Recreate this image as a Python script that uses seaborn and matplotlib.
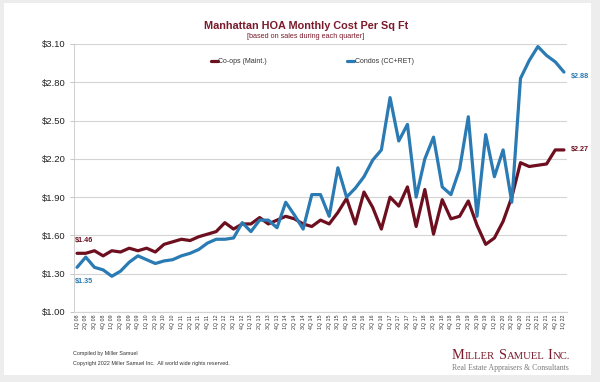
import numpy as np
import pandas as pd
import matplotlib
matplotlib.use("Agg")
import matplotlib.pyplot as plt
import seaborn as sns
from matplotlib.patches import Rectangle

quarters = [f"{q}Q {y:02d}" for y in range(8, 22) for q in range(1, 5)] + ["1Q 22"]

coops = [1.46, 1.46, 1.48, 1.44, 1.48, 1.47, 1.50, 1.48, 1.50, 1.47,
         1.53, 1.55, 1.57, 1.56, 1.59, 1.61, 1.63, 1.70, 1.65, 1.69,
         1.69, 1.74, 1.69, 1.72, 1.75, 1.73, 1.69, 1.67, 1.72, 1.69,
         1.78, 1.89, 1.69, 1.94, 1.82, 1.65, 1.90, 1.83, 1.98, 1.67,
         1.96, 1.61, 1.88, 1.73, 1.75, 1.87, 1.68, 1.53, 1.58, 1.71,
         1.90, 2.17, 2.14, 2.15, 2.16, 2.27, 2.27]

condos = [1.35, 1.43, 1.35, 1.33, 1.28, 1.32, 1.39, 1.44, 1.41, 1.38,
          1.40, 1.41, 1.44, 1.46, 1.49, 1.54, 1.57, 1.57, 1.58, 1.70,
          1.63, 1.72, 1.72, 1.66, 1.86, 1.76, 1.65, 1.92, 1.92, 1.75,
          2.13, 1.90, 1.97, 2.06, 2.19, 2.27, 2.68, 2.34, 2.47, 1.90,
          2.20, 2.37, 1.98, 1.92, 2.12, 2.53, 1.75, 2.39, 2.06, 2.27,
          1.86, 2.83, 2.97, 3.08, 3.01, 2.96, 2.88]

series_names = ["Co-ops (Maint.)", "Condos (CC+RET)"]
yticks = [1.00, 1.30, 1.60, 1.90, 2.20, 2.50, 2.80, 3.10]

RED = "#6d0f1f"
BLUE = "#2a7ab3"
TITLE_RED = "#7a1a2a"

n = len(quarters)
df = pd.DataFrame({
    "idx": list(range(n)) * 2,
    "value": coops + condos,
    "series": [series_names[0]] * n + [series_names[1]] * n,
})

sns.set_theme(style="white")
plt.rcParams["font.family"] = ["Liberation Sans", "DejaVu Sans"]

W, H = 600, 382
fig = plt.figure(figsize=(W / 100, H / 100), dpi=100)
fig.patch.set_facecolor("#ededed")
fig.add_artist(Rectangle((4 / W, 1 - 375 / H), 587 / W, 372 / H,
                         transform=fig.transFigure, facecolor="white",
                         edgecolor="none", zorder=0))

ax = fig.add_axes([74 / W, 1 - 312 / H, 493 / W, 268 / H])
ax.set_facecolor("white")

sns.lineplot(data=df, x="idx", y="value", hue="series",
             palette={series_names[0]: RED, series_names[1]: BLUE},
             linewidth=2.3, ax=ax, legend=True)

ax.set_xlim(-0.35, n - 1 + 0.35)
ax.set_ylim(1.00, 3.10)
ax.set_yticks(yticks)
ax.set_yticklabels([f"${v:.2f}" for v in yticks], fontsize=6.8, color="#222222")
ax.set_xticks(range(n))
ax.set_xticklabels(quarters, rotation=90, fontsize=3.8, color="#333333")
ax.tick_params(axis="y", length=3, width=0.6, color="#bbbbbb", pad=3, left=True)
ax.tick_params(axis="x", length=0, pad=2)
ax.grid(axis="y", color="#d4d4d4", linewidth=0.8)
ax.set_axisbelow(True)
for s in ["top", "right"]:
    ax.spines[s].set_visible(False)
ax.spines["left"].set_color("#c8c8c8")
ax.spines["left"].set_linewidth(0.6)
ax.spines["bottom"].set_color("#d4d4d4")
ax.spines["bottom"].set_linewidth(0.8)
ax.set_xlabel("")
ax.set_ylabel("")

leg = ax.legend(loc="center", bbox_to_anchor=(0.483, 0.933), ncol=2, frameon=False,
                fontsize=5.0, handlelength=1.0, handletextpad=0.1,
                columnspacing=11.5)
for line in leg.get_lines():
    line.set_linewidth(2.3)
for t in leg.get_texts():
    t.set_color("#333333")

# end labels
ax.annotate(f"${coops[0]:.2f}", (0, coops[0]), xytext=(-1.5, 9), textcoords="offset points",
            fontsize=5.2, color=RED, fontweight="bold", ha="left", va="center")
ax.annotate(f"${condos[0]:.2f}", (0, condos[0]), xytext=(-1.5, -10), textcoords="offset points",
            fontsize=5.2, color=BLUE, fontweight="bold", ha="left", va="center")
ax.annotate(f"${coops[-1]:.2f}", (n - 1, coops[-1]), xytext=(5, 0), textcoords="offset points",
            fontsize=5.2, color=RED, fontweight="bold", ha="left", va="center",
            annotation_clip=False)
ax.annotate(f"${condos[-1]:.2f}", (n - 1, condos[-1]), xytext=(5, -3), textcoords="offset points",
            fontsize=5.2, color=BLUE, fontweight="bold", ha="left", va="center",
            annotation_clip=False)

# titles
fig.text(0.51, 1 - 26 / H, "Manhattan HOA Monthly Cost Per Sq Ft", ha="center", va="center",
         fontsize=7.8, fontweight="bold", color=TITLE_RED)
fig.text(0.51, 1 - 37 / H, "[based on sales during each quarter]", ha="center", va="center",
         fontsize=5.2, color=TITLE_RED)

# footer
fig.text(73 / W, 1 - 354 / H, "Compiled by Miller Samuel", ha="left", va="center",
         fontsize=3.9, color="#333333")
fig.text(73 / W, 1 - 364 / H,
         "Copyright 2022 Miller Samuel Inc.  All world wide rights reserved.",
         ha="left", va="center", fontsize=3.9, color="#333333")

# small-caps company name
serif = ["Liberation Serif", "DejaVu Serif"]
pieces = [("M", 1.0), ("ILLER", 0.75), (" ", 1.0), ("S", 1.0), ("AMUEL", 0.75),
          (" ", 1.0), ("I", 1.0), ("NC.", 0.75)]
renderer = fig.canvas.get_renderer()
base = 11.0
target_left, target_right = 452, 570
baseline_y = 1 - 359 / H


def draw_pieces(size, x0_px, draw=True):
    x = x0_px
    arts = []
    for txt, rel in pieces:
        t = fig.text(x / W, baseline_y, txt.replace(" ", "\u00a0"), ha="left",
                     va="baseline", fontsize=size * rel, color=TITLE_RED, family=serif)
        w = t.get_window_extent(renderer=renderer).width
        arts.append(t)
        x += w
    if not draw:
        for a in arts:
            a.remove()
    return x - x0_px


total = draw_pieces(base, target_left, draw=False)
size = base * (target_right - target_left) / total
draw_pieces(size, target_left, draw=True)

fig.text(569 / W, 1 - 368 / H, "Real Estate Appraisers & Consultants", ha="right",
         va="center", fontsize=5.6, color="#7a7a7a", family=serif)

fig.savefig("out.png", dpi=100, facecolor=fig.get_facecolor())
